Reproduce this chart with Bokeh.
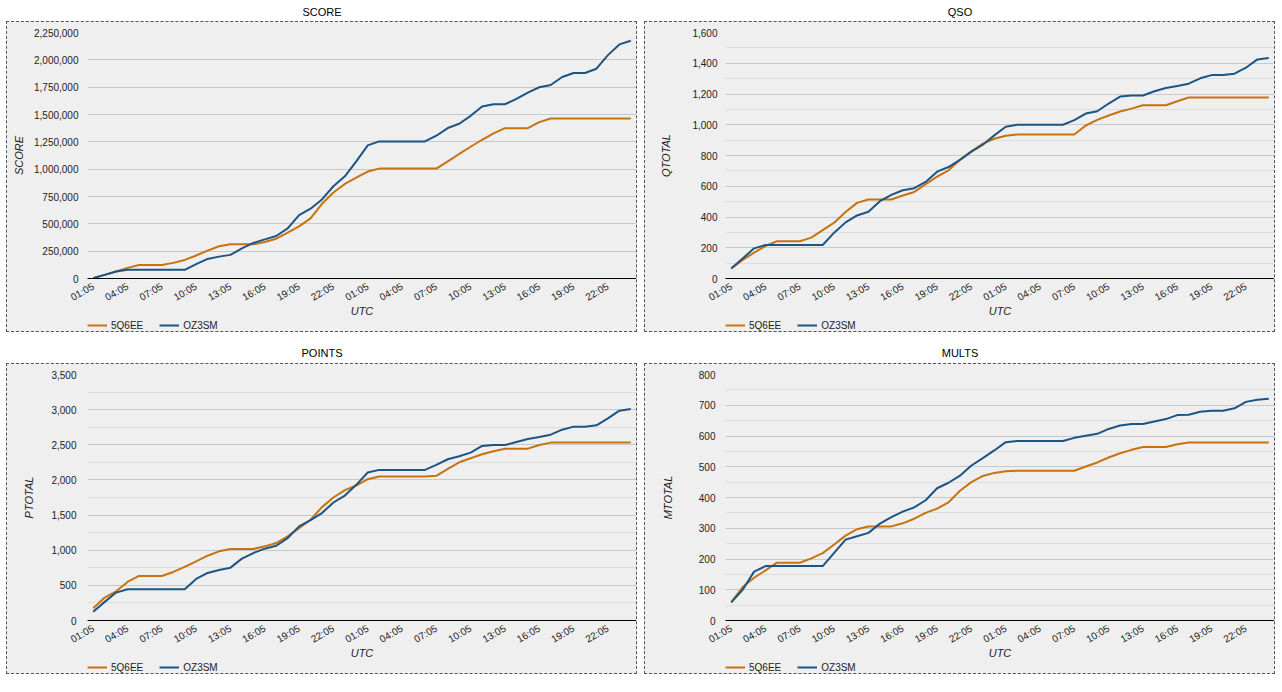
import math
from bokeh.plotting import figure
from bokeh.layouts import column, row
from bokeh.models import (Range1d, FixedTicker, NumeralTickFormatter, Label, Legend,
                          LegendItem, Spacer)
from bokeh.embed import file_html
from bokeh.resources import INLINE

# ---------------- data ----------------
TIMES = ["01:05", "02:05", "03:05", "04:05", "05:05", "06:05", "07:05", "08:05",
         "09:05", "10:05", "11:05", "12:05", "13:05", "14:05", "15:05", "16:05",
         "17:05", "18:05", "19:05", "20:05", "21:05", "22:05", "23:05", "00:05",
         "01:05", "02:05", "03:05", "04:05", "05:05", "06:05", "07:05", "08:05",
         "09:05", "10:05", "11:05", "12:05", "13:05", "14:05", "15:05", "16:05",
         "17:05", "18:05", "19:05", "20:05", "21:05", "22:05", "23:05", "00:05"]
SERIES = ["5Q6EE", "OZ3SM"]

SCORE_5Q6EE = [5000, 33000, 64000, 97000, 124000, 124000, 124000, 143000, 170000, 210000,
               255000, 295000, 313000, 313000, 313000, 334000, 364000, 419000, 477000, 550000,
               683000, 786000, 865000, 923000, 978000, 1005000, 1005000, 1005000, 1005000, 1005000,
               1005000, 1072000, 1139000, 1205000, 1269000, 1327000, 1375000, 1375000, 1375000, 1430000,
               1464000, 1464000, 1464000, 1464000, 1464000, 1464000, 1464000, 1464000]
SCORE_OZ3SM = [3000, 33000, 64000, 79000, 79000, 79000, 79000, 79000, 79000, 131000,
               179000, 200000, 216000, 276000, 325000, 358000, 389000, 458000, 580000, 638000,
               723000, 844000, 935000, 1072000, 1218000, 1254000, 1254000, 1254000, 1254000, 1254000,
               1306000, 1376000, 1415000, 1488000, 1573000, 1594000, 1594000, 1643000, 1700000, 1749000,
               1770000, 1843000, 1880000, 1880000, 1919000, 2043000, 2141000, 2174000]

QSO_5Q6EE = [65, 121, 168, 212, 242, 242, 242, 266, 315, 363,
             432, 492, 514, 514, 514, 540, 563, 613, 663, 704,
             773, 827, 877, 909, 928, 937, 937, 937, 937, 937,
             937, 995, 1032, 1060, 1086, 1105, 1127, 1127, 1127, 1153,
             1177, 1177, 1177, 1177, 1177, 1177, 1177, 1177]
QSO_OZ3SM = [65, 130, 196, 218, 218, 218, 218, 218, 218, 298,
             365, 410, 434, 503, 544, 574, 587, 628, 695, 725,
             771, 825, 870, 931, 987, 1000, 1000, 1000, 1000, 1000,
             1030, 1073, 1088, 1138, 1183, 1190, 1190, 1218, 1239, 1252,
             1267, 1302, 1323, 1323, 1332, 1371, 1425, 1434]

POINTS_5Q6EE = [175, 326, 416, 549, 634, 634, 634, 691, 762, 842,
                922, 984, 1017, 1017, 1017, 1055, 1102, 1197, 1315, 1433,
                1613, 1750, 1854, 1920, 2010, 2048, 2048, 2048, 2048, 2048,
                2058, 2157, 2251, 2308, 2365, 2408, 2445, 2445, 2445, 2497,
                2531, 2531, 2531, 2531, 2531, 2531, 2531, 2531]
POINTS_OZ3SM = [123, 265, 397, 445, 445, 445, 445, 445, 445, 591,
                676, 719, 752, 880, 960, 1022, 1064, 1173, 1339, 1428,
                1528, 1679, 1778, 1930, 2105, 2143, 2143, 2143, 2143, 2143,
                2214, 2294, 2337, 2389, 2483, 2497, 2497, 2540, 2583, 2611,
                2644, 2715, 2758, 2758, 2777, 2876, 2985, 3008]

MULTS_5Q6EE = [59, 109, 139, 163, 188, 188, 188, 202, 219, 247,
               276, 297, 306, 306, 306, 316, 331, 350, 364, 384,
               422, 450, 470, 480, 485, 487, 487, 487, 487, 487,
               487, 501, 514, 530, 544, 555, 564, 564, 564, 573,
               579, 579, 579, 579, 579, 579, 579, 579]
MULTS_OZ3SM = [59, 100, 159, 177, 177, 177, 177, 177, 177, 220,
               263, 274, 285, 315, 336, 354, 368, 391, 430, 448,
               471, 504, 528, 553, 580, 584, 584, 584, 584, 584,
               594, 601, 607, 623, 634, 639, 639, 647, 655, 668,
               669, 679, 682, 682, 690, 711, 718, 721]

SCORE_TICKS = [0, 250000, 500000, 750000, 1000000, 1250000, 1500000, 1750000, 2000000, 2250000]
QSO_TICKS = [0, 200, 400, 600, 800, 1000, 1200, 1400, 1600]
QSO_MINOR = [100, 300, 500, 700, 900, 1100, 1300, 1500]
POINTS_TICKS = [0, 500, 1000, 1500, 2000, 2500, 3000, 3500]
POINTS_MINOR = [250, 750, 1250, 1750, 2250, 2750, 3250]
MULTS_TICKS = [0, 100, 200, 300, 400, 500, 600, 700, 800]
MULTS_MINOR = [50, 150, 250, 350, 450, 550, 650, 750]
X_TICKS = list(range(0, 48, 3))

# ---------------- style ----------------
FONT = "Liberation Sans"
ORANGE = "#c8720e"
BLUE = "#1b5586"
PANEL_BG = "#efefef"
CW = 629          # inner width of the dashed box
MAIN_H = 297      # chart part inside the box
LEG_H = 12        # legend strip inside the box


def make_title(text, height, center_from_top):
    t = figure(width=CW + 2, height=height, output_backend="svg", toolbar_location=None,
               title=None, x_range=Range1d(0, 1), y_range=Range1d(0, height),
               x_axis_location=None, y_axis_location=None, min_border=0)
    t.outline_line_color = None
    t.border_fill_color = "white"
    t.background_fill_color = "white"
    t.grid.grid_line_color = None
    t.add_layout(Label(x=0.5, y=height - center_from_top, text=text,
                       text_align="center", text_baseline="middle",
                       text_font=FONT, text_font_size="11px", text_color="#000000"))
    return t


def make_panel(ylabel, a, b, yticks, yminor, ylab_standoff, ytick_standoff):
    x = list(range(len(TIMES)))
    p = figure(width=CW, height=MAIN_H, output_backend="svg", toolbar_location=None,
               title=None, x_range=Range1d(-0.5, 47.5),
               y_range=Range1d(yticks[0], yticks[-1]),
               min_border_left=80, min_border_right=0,
               min_border_top=10, min_border_bottom=40)
    p.border_fill_color = PANEL_BG
    p.background_fill_color = PANEL_BG
    p.outline_line_color = None

    p.line(x, a, line_color=ORANGE, line_width=2)
    p.line(x, b, line_color=BLUE, line_width=2)

    # y axis
    yax = p.yaxis[0]
    yax.ticker = FixedTicker(ticks=yticks, minor_ticks=yminor)
    yax.formatter = NumeralTickFormatter(format="0,0")
    yax.axis_line_color = None
    yax.major_tick_line_color = None
    yax.minor_tick_line_color = None
    yax.major_label_standoff = ytick_standoff
    yax.major_label_text_font = FONT
    yax.major_label_text_font_size = "10px"
    yax.major_label_text_color = "#222222"
    yax.axis_label = ylabel
    yax.axis_label_text_font = FONT
    yax.axis_label_text_font_size = "11px"
    yax.axis_label_text_font_style = "italic"
    yax.axis_label_text_color = "#222222"
    yax.axis_label_standoff = ylab_standoff

    # x axis
    xax = p.xaxis[0]
    xax.ticker = FixedTicker(ticks=X_TICKS)
    xax.major_label_overrides = {i: TIMES[i] for i in X_TICKS}
    xax.major_label_orientation = math.pi / 6
    xax.axis_line_color = "#000000"
    xax.axis_line_width = 1
    xax.major_tick_line_color = None
    xax.minor_tick_line_color = None
    xax.major_label_standoff = 1
    xax.major_label_text_font = FONT
    xax.major_label_text_font_size = "10px"
    xax.major_label_text_color = "#222222"
    xax.axis_label = "UTC"
    xax.axis_label_text_font = FONT
    xax.axis_label_text_font_size = "11px"
    xax.axis_label_text_font_style = "italic"
    xax.axis_label_text_color = "#222222"
    xax.axis_label_standoff = -6

    # grids
    p.xgrid.grid_line_color = None
    p.ygrid.grid_line_color = "#c8c8c8"
    p.ygrid.grid_line_width = 1
    if yminor:
        p.ygrid.minor_grid_line_color = "#dddddd"
        p.ygrid.minor_grid_line_width = 1

    # legend strip (inside the same dashed box); its lines are the same series,
    # kept out of this strip's view so only the legend keys show
    lg = figure(width=CW, height=LEG_H, output_backend="svg", toolbar_location=None,
                title=None, x_range=Range1d(-0.5, 47.5), y_range=Range1d(-2, -1),
                x_axis_location=None, y_axis_location=None,
                min_border_left=80, min_border_right=0, min_border_top=0,
                min_border_bottom=0)
    lg.outline_line_color = None
    lg.border_fill_color = PANEL_BG
    lg.background_fill_color = PANEL_BG
    lg.grid.grid_line_color = None
    l1 = lg.line(x, a, line_color=ORANGE, line_width=2)
    l2 = lg.line(x, b, line_color=BLUE, line_width=2)
    legend = Legend(items=[LegendItem(label=SERIES[0], renderers=[l1]),
                           LegendItem(label=SERIES[1], renderers=[l2])],
                    orientation="horizontal", location=(0, 0),
                    glyph_width=20, glyph_height=LEG_H, label_standoff=4, spacing=16,
                    padding=0, margin=0, border_line_color=None,
                    background_fill_alpha=0.0,
                    label_text_font=FONT, label_text_font_size="10px",
                    label_text_color="#222222", label_height=LEG_H)
    lg.add_layout(legend, "center")

    box = column(p, lg, styles={"border": "1px dashed #555555",
                                "background-color": PANEL_BG})
    return box


b1 = make_panel("SCORE", SCORE_5Q6EE, SCORE_OZ3SM, SCORE_TICKS, [], 6, 3)
b2 = make_panel("QTOTAL", QSO_5Q6EE, QSO_OZ3SM, QSO_TICKS, QSO_MINOR, 17, 2)
b3 = make_panel("PTOTAL", POINTS_5Q6EE, POINTS_OZ3SM, POINTS_TICKS, POINTS_MINOR, 13, 5)
b4 = make_panel("MTOTAL", MULTS_5Q6EE, MULTS_OZ3SM, MULTS_TICKS, MULTS_MINOR, 22, 4)

t1 = make_title("SCORE", 21, 11)
t2 = make_title("QSO", 21, 11)
t3 = make_title("POINTS", 31, 20)
t4 = make_title("MULTS", 31, 20)

row0 = row(Spacer(width=6), column(t1, b1), Spacer(width=7), column(t2, b2))
row1 = row(Spacer(width=6), column(t3, b3), Spacer(width=7), column(t4, b4))
layout = column(row0, row1)
open("out.html", "w").write(file_html(layout, INLINE))
